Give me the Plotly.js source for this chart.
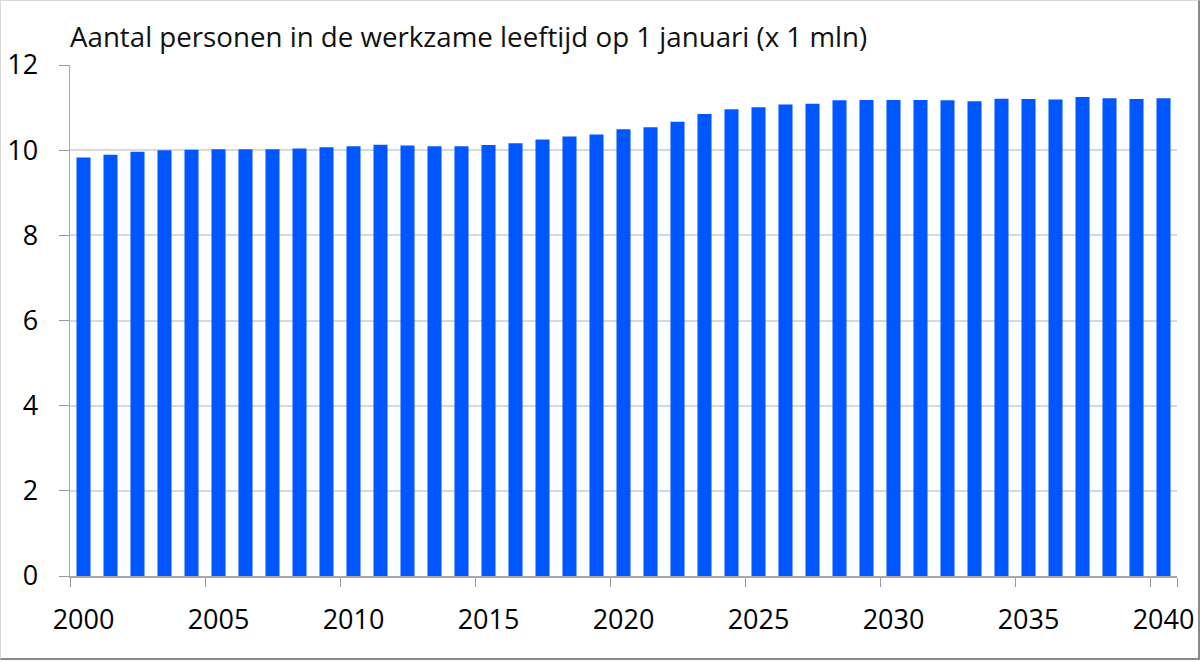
<!DOCTYPE html>
<html>
<head>
<meta charset="utf-8">
<script src="https://cdn.plot.ly/plotly-3.0.1.min.js"></script>
<style>
html, body { margin: 0; padding: 0; background: #fff; }
#frame { position: absolute; left: 0; top: 0; width: 1197px; height: 657px;
  border-top: 1px solid #d8d8d8; border-left: 1px solid #d8d8d8;
  border-right: 2px solid #8a8a8a; border-bottom: 2px solid #8a8a8a; }
#chart { width: 1200px; height: 662px; position: absolute; left: 0; top: 0; }
</style>
</head>
<body>
<div id="chart"></div>
<div id="frame"></div>
<script>
const titleText = "Aantal personen in de werkzame leeftijd op 1 januari (x 1 mln)";
const years = ["2000","2001","2002","2003","2004","2005","2006","2007","2008","2009",
  "2010","2011","2012","2013","2014","2015","2016","2017","2018","2019",
  "2020","2021","2022","2023","2024","2025","2026","2027","2028","2029",
  "2030","2031","2032","2033","2034","2035","2036","2037","2038","2039","2040"];
const persons = [9.83, 9.89, 9.96, 10.00, 10.01, 10.02, 10.02, 10.02, 10.04, 10.07,
  10.09, 10.13, 10.11, 10.09, 10.09, 10.12, 10.16, 10.25, 10.32, 10.37,
  10.49, 10.54, 10.67, 10.85, 10.96, 11.01, 11.07, 11.09, 11.17, 11.18,
  11.18, 11.18, 11.17, 11.15, 11.21, 11.20, 11.19, 11.25, 11.22, 11.20, 11.22];
const xTickLabels = ["2000","2005","2010","2015","2020","2025","2030","2035","2040"];
const yTickVals = [0, 2, 4, 6, 8, 10, 12];

const font = "'Open Sans', 'Noto Sans', sans-serif";

Plotly.newPlot("chart", [{
  type: "bar",
  x: years,
  y: persons,
  marker: { color: "#0057ff", line: { width: 0 } },
  hoverinfo: "x+y"
}], {
  width: 1200, height: 662,
  margin: { l: 70, r: 23, t: 65, b: 86, pad: 0 },
  paper_bgcolor: "#ffffff", plot_bgcolor: "#ffffff",
  bargap: 0.48,
  showlegend: false,
  font: { family: font, size: 27, color: "#000" },
  title: {
    text: titleText,
    font: { family: font, size: 27.7, color: "#111" },
    x: 0, xref: "paper", xanchor: "left",
    y: 1 - 37/662, yref: "container", yanchor: "middle"
  },
  xaxis: {
    type: "category",
    tickmode: "array",
    tickvals: xTickLabels,
    ticktext: xTickLabels,
    tickson: "boundaries",
    tickangle: 0,
    ticks: "outside", ticklen: 9, tickwidth: 1, tickcolor: "#9a9a9a",
    showline: true, linecolor: "#a8a8a8", linewidth: 1.5,
    showgrid: false, zeroline: false,
    tickfont: { family: font, size: 27, color: "#000" },
    ticklabelstandoff: 19
  },
  yaxis: {
    range: [0, 12],
    tickmode: "array",
    tickvals: yTickVals,
    ticks: "outside", ticklen: 10, tickwidth: 1, tickcolor: "#9a9a9a",
    showline: true, linecolor: "#a8a8a8", linewidth: 1.5,
    showgrid: true, gridcolor: "#d9d9d9", gridwidth: 2,
    zeroline: false,
    tickfont: { family: font, size: 27, color: "#000" },
    ticklabelstandoff: 15
  }
}, { displayModeBar: false, staticPlot: true });
</script>
</body>
</html>
